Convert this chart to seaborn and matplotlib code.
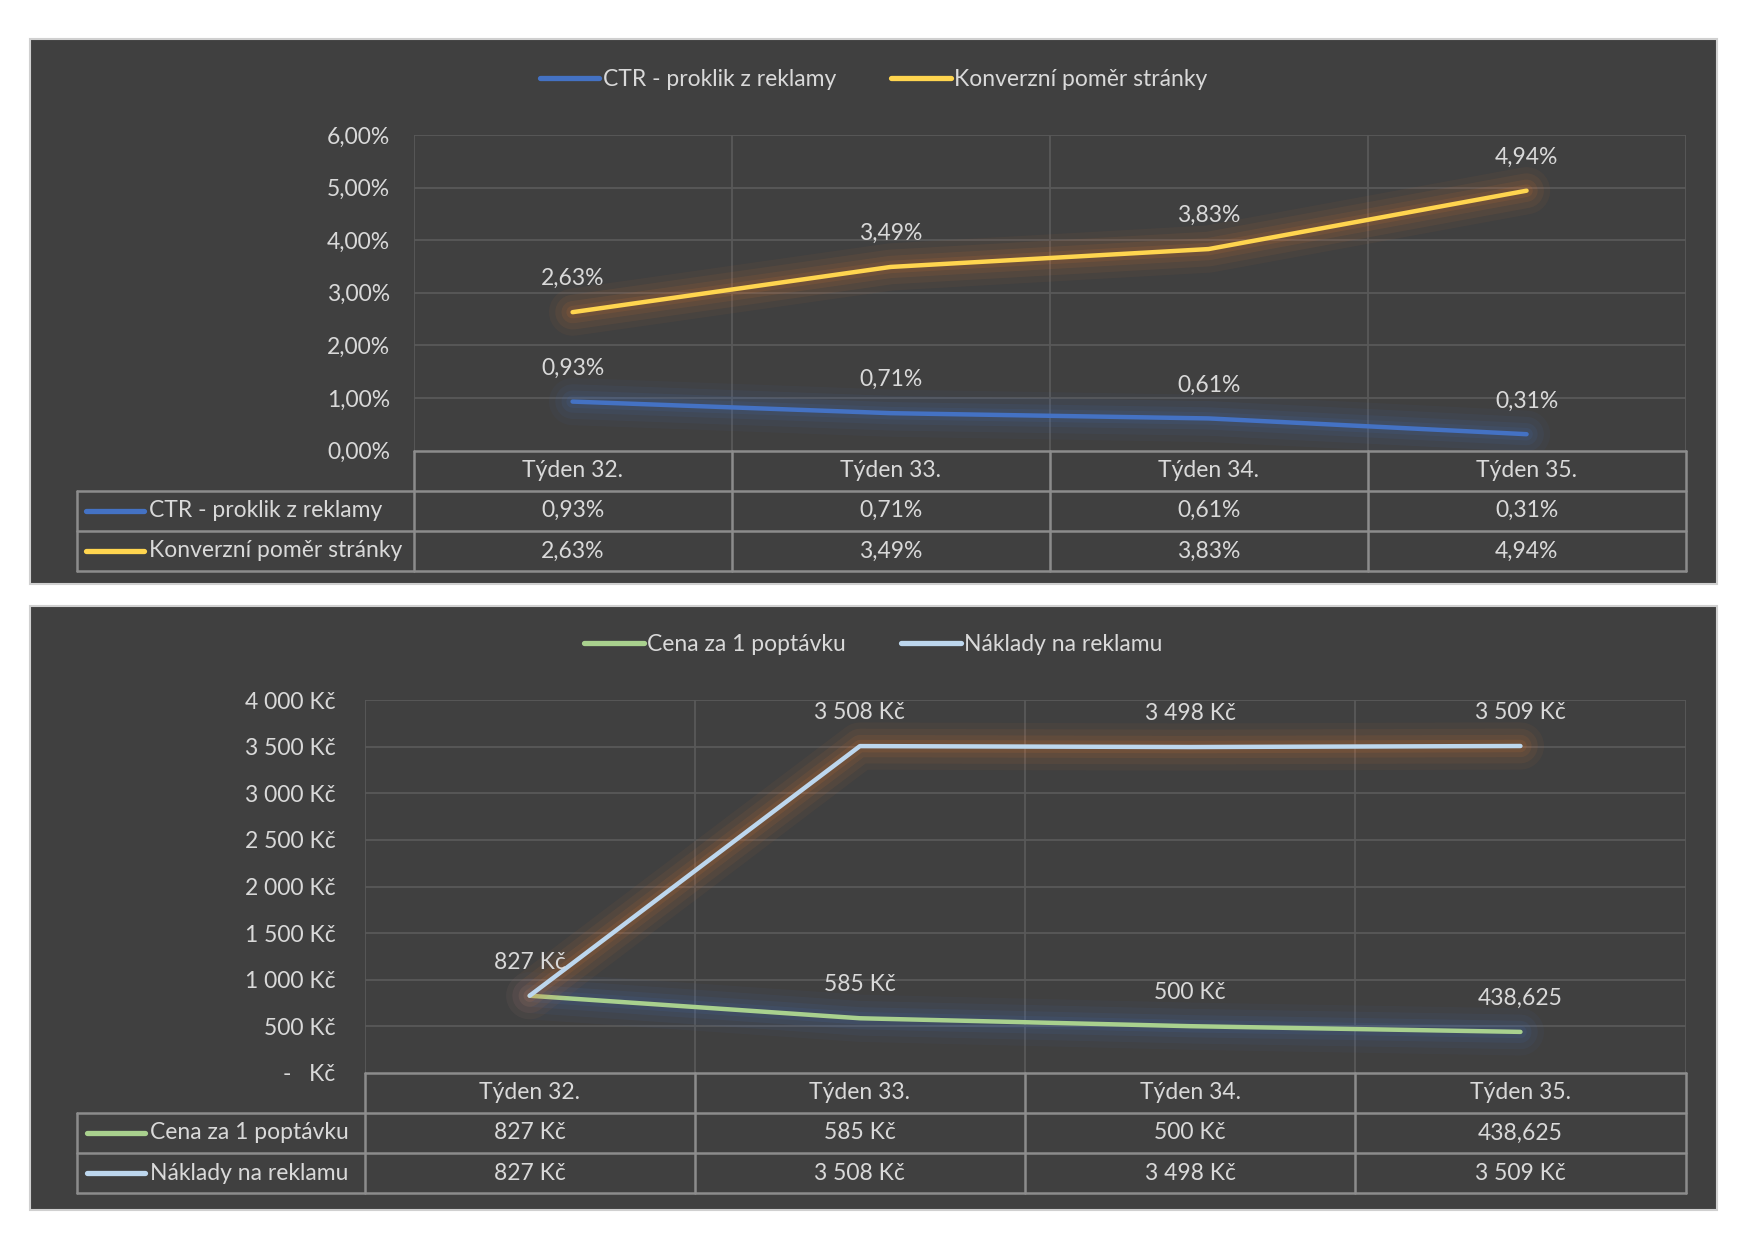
import matplotlib
matplotlib.use("Agg")
import matplotlib.pyplot as plt
import matplotlib.patheffects as pe
from matplotlib.lines import Line2D
from matplotlib.patches import Rectangle
from matplotlib.ticker import FuncFormatter, MultipleLocator
import seaborn as sns

# data
weeks = ["Týden 32.", "Týden 33.", "Týden 34.", "Týden 35."]
ctr = [0.93, 0.71, 0.61, 0.31]
konverze = [2.63, 3.49, 3.83, 4.94]
cena = [827, 585, 500, 438.625]
naklady = [827, 3508, 3498, 3509]
cena_labels = ["827 Kč", "585 Kč", "500 Kč", "438,625"]
naklady_labels = ["827 Kč", "3 508 Kč", "3 498 Kč", "3 509 Kč"]

sns.set_theme(style="dark")
plt.rcParams["font.family"] = ["Lato", "DejaVu Sans"]

BG = "#404040"
TXT = "#D9D9D9"
GRID = "#595959"
TBL = "#8C8C8C"
FS = 16.5

W, H = 1568, 1112  # layout units (scaled to the figure)


def rect(x0, y0, x1, y1):
    return [x0 / W, 1 - y1 / H, (x1 - x0) / W, (y1 - y0) / H]


def pct(v):
    return f"{v:.2f}%".replace(".", ",")


def kc(v, pos=None):
    if v == 0:
        return "-   Kč"
    return f"{int(v):,} Kč".replace(",", " ")


fig = plt.figure(figsize=(17.48, 12.40), dpi=100)
fig.patch.set_facecolor("white")


def panel(frame, plot, table_x0, series, ymax, ystep, yfmt, tickpad, legend_y):
    fig.add_artist(Rectangle((frame[0] / W, 1 - frame[3] / H),
                             (frame[2] - frame[0]) / W, (frame[3] - frame[1]) / H,
                             transform=fig.transFigure, facecolor=BG,
                             edgecolor="#D0D0D0", lw=1.5, zorder=0))
    ax = fig.add_axes(rect(*plot))
    ax.set_facecolor("none")
    seen = set()
    handles = []
    for name, vals, labels, color, glow in series:
        sns.lineplot(x=weeks, y=vals, ax=ax, color=color, lw=3.2, sort=False,
                     solid_capstyle="round", solid_joinstyle="round", zorder=3)
        line = ax.lines[-1]
        line.set_path_effects([
            pe.Stroke(linewidth=34, foreground=glow, alpha=0.05),
            pe.Stroke(linewidth=25, foreground=glow, alpha=0.07),
            pe.Stroke(linewidth=16, foreground=glow, alpha=0.09),
            pe.Stroke(linewidth=9, foreground=glow, alpha=0.11),
            pe.Normal(),
        ])
        for i, (v, lab) in enumerate(zip(vals, labels)):
            if (i, lab) in seen:
                continue
            seen.add((i, lab))
            ax.annotate(lab, (i, v), xytext=(0, 24), textcoords="offset points",
                        ha="center", va="center", color=TXT, fontsize=FS, zorder=5)
        handles.append(Line2D([], [], color=color, lw=3.8, solid_capstyle="round", label=name))

    n = len(weeks)
    ax.set_xlim(-0.5, n - 0.5)
    ax.set_ylim(0, ymax)
    ax.yaxis.set_major_locator(MultipleLocator(ystep))
    ax.yaxis.set_major_formatter(FuncFormatter(yfmt))
    ax.set_xticks([])
    ax.set_xlabel("")
    ax.set_ylabel("")
    ax.tick_params(axis="y", length=0, pad=tickpad, labelsize=FS, labelcolor=TXT)
    for s in ax.spines.values():
        s.set_visible(False)
    ax.grid(False)
    k = ystep
    while k <= ymax + 1e-9:
        ax.axhline(k, color=GRID, lw=1.3, zorder=1)
        k += ystep
    for xb in [i - 0.5 for i in range(n + 1)]:
        ax.axvline(xb, color=GRID, lw=1.3, zorder=1)

    # data table under the plot
    tr = ax.get_xaxis_transform()
    rh = 36 / (plot[3] - plot[1])
    xl = -0.5 - n * (plot[0] - table_x0) / (plot[2] - plot[0])
    kw = dict(transform=tr, clip_on=False, color=TBL, lw=1.8, zorder=4)
    ax.plot([-0.5, n - 0.5], [0, 0], **kw)
    for r in range(1, len(series) + 2):
        ax.plot([xl, n - 0.5], [-r * rh, -r * rh], **kw)
    for xb in [i - 0.5 for i in range(n + 1)]:
        ax.plot([xb, xb], [0, -(len(series) + 1) * rh], **kw)
    ax.plot([xl, xl], [-rh, -(len(series) + 1) * rh], **kw)
    for i, w in enumerate(weeks):
        ax.text(i, -0.5 * rh, w, transform=tr, ha="center", va="center",
                color=TXT, fontsize=FS)
    key_len = 52 / (plot[2] - plot[0]) * n
    for r, (name, vals, labels, color, glow) in enumerate(series, start=1):
        yc = -(r + 0.5) * rh
        ax.plot([xl + 0.03, xl + 0.03 + key_len], [yc, yc], transform=tr, clip_on=False,
                color=color, lw=3.8, solid_capstyle="round", zorder=5)
        ax.text(xl + 0.045 + key_len, yc, name, transform=tr, ha="left", va="center",
                color=TXT, fontsize=FS)
        for i, lab in enumerate(labels):
            ax.text(i, yc, lab, transform=tr, ha="center", va="center",
                    color=TXT, fontsize=FS)

    cx = (frame[0] + frame[2]) / 2 / W
    fig.legend(handles=handles, loc="center", bbox_to_anchor=(cx, 1 - legend_y / H),
               ncol=len(handles), frameon=False, fontsize=FS, labelcolor=TXT,
               handlelength=2.6, handletextpad=0.15, columnspacing=2.4)
    return ax


top_series = [
    ("CTR - proklik z reklamy", ctr, [pct(v) for v in ctr], "#4472C4", "#4472C4"),
    ("Konverzní poměr stránky", konverze, [pct(v) for v in konverze], "#FFD54F", "#ED7D31"),
]
panel((27, 35, 1540, 524), (371, 121, 1512, 404), 69, top_series,
      6, 1, lambda v, p: pct(v), 17, 71)

bottom_series = [
    ("Cena za 1 poptávku", cena, cena_labels, "#A9D18E", "#4472C4"),
    ("Náklady na reklamu", naklady, naklady_labels, "#BDD7EE", "#ED7D31"),
]
panel((27, 543, 1540, 1085), (327, 628, 1512, 962), 69, bottom_series,
      4000, 500, kc, 21, 578)

fig.savefig("out.png", dpi=100, facecolor=fig.get_facecolor())
